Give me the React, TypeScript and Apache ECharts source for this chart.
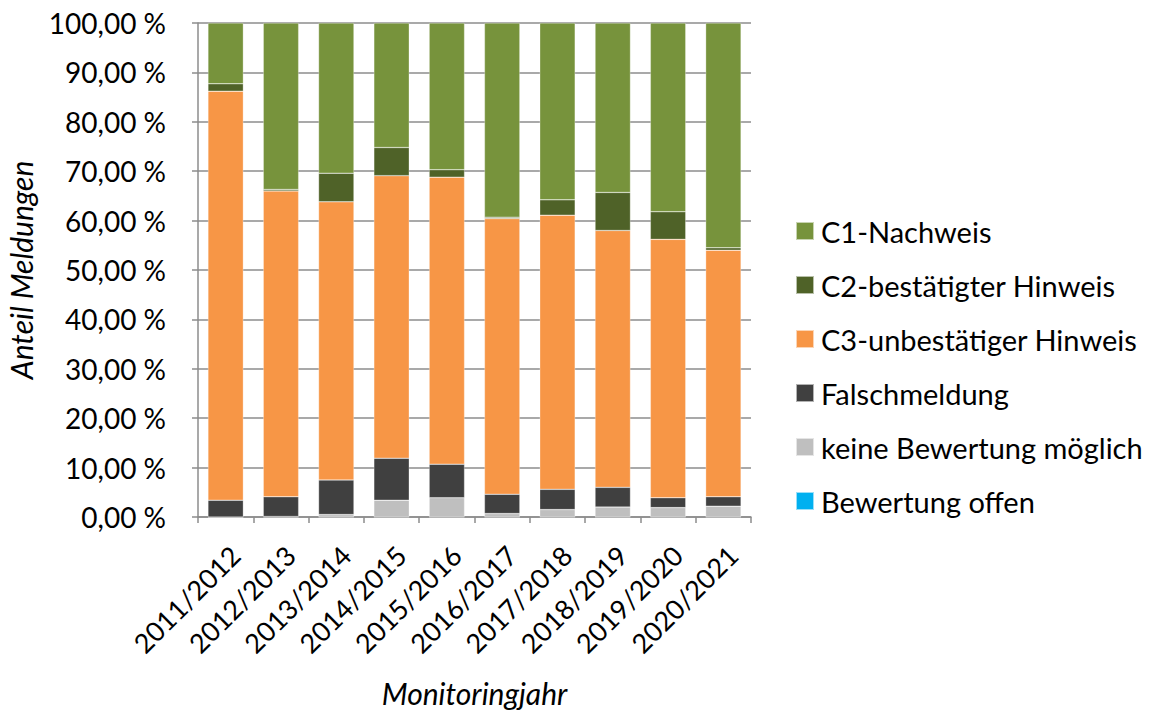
import React, { useEffect, useRef } from "react";
import * as echarts from "echarts";

const categories = [
  "2011/2012", "2012/2013", "2013/2014", "2014/2015", "2015/2016",
  "2016/2017", "2017/2018", "2018/2019", "2019/2020", "2020/2021",
];
const offen = [0, 0, 0, 0, 0, 0, 0, 0, 0, 0];
const keine = [0, 0.1, 0.5, 3.4, 3.9, 0.7, 1.5, 2.0, 1.9, 2.2];
const falsch = [3.4, 4.0, 7.0, 8.5, 6.8, 3.9, 4.1, 4.0, 2.0, 1.9];
const c3 = [82.8, 61.9, 56.3, 57.2, 58.1, 55.8, 55.5, 52.0, 52.3, 49.9];
const c2 = [1.5, 0.3, 5.8, 5.7, 1.5, 0.3, 3.1, 7.7, 5.6, 0.5];
const c1 = [12.3, 33.7, 30.4, 25.2, 29.7, 39.3, 35.8, 34.3, 38.2, 45.5];

const FONT = "Lato";

export default function App() {
  const ref = useRef<HTMLDivElement>(null);
  useEffect(() => {
    document.body.style.margin = "0";
    const chart = echarts.init(ref.current!, null, { renderer: "svg" });
    const mk = (name: string, data: number[], color: string) => ({
      name,
      type: "bar",
      stack: "total",
      data,
      barWidth: "64%",
      itemStyle: { color, borderColor: "rgba(255,255,255,0.6)", borderWidth: 0.5 },
    });
    chart.setOption({
      animation: false,
      textStyle: { fontFamily: FONT },
      grid: {
        left: 198,
        top: 23,
        right: 407,
        bottom: 194,
        containLabel: false,
        outerBoundsMode: "none",
      },
      legend: {
        orient: "vertical",
        left: 790,
        top: 210,
        itemWidth: 18,
        itemHeight: 18,
        itemGap: 22,
        icon: "rect",
        textStyle: {
          fontSize: 29,
          fontFamily: FONT,
          color: "#000",
          lineHeight: 32,
          padding: [0, 0, 0, 2],
        },
        data: [
          "C1-Nachweis",
          "C2-bestätigter Hinweis",
          "C3-unbestätiger Hinweis",
          "Falschmeldung",
          "keine Bewertung möglich",
          "Bewertung offen",
        ],
      },
      xAxis: {
        type: "category",
        data: categories,
        name: "Monitoringjahr",
        nameLocation: "middle",
        nameGap: 161,
        nameTextStyle: { fontSize: 30, fontStyle: "italic", color: "#000", fontFamily: FONT },
        axisLine: { lineStyle: { color: "#8c8c8c", width: 1.5 } },
        axisTick: { show: true, length: 6, lineStyle: { color: "#8c8c8c", width: 1.5 } },
        axisLabel: {
          rotate: 45,
          fontSize: 27,
          color: "#000",
          margin: 24,
          verticalAlign: "top",
          fontFamily: FONT,
        },
      },
      yAxis: {
        type: "value",
        min: 0,
        max: 100,
        interval: 10,
        name: "Anteil Meldungen",
        nameLocation: "middle",
        nameGap: 162,
        nameTextStyle: { fontSize: 30, fontStyle: "italic", color: "#000", fontFamily: FONT },
        axisLine: { show: true, lineStyle: { color: "#8c8c8c", width: 1.5 } },
        axisTick: { show: true, length: 6, lineStyle: { color: "#8c8c8c", width: 1.5 } },
        splitLine: { show: true, lineStyle: { color: "#8c8c8c", width: 1.5 } },
        axisLabel: {
          fontSize: 28,
          color: "#000",
          margin: 32,
          fontFamily: FONT,
          formatter: (v: number) => v.toFixed(2).replace(".", ",") + " %",
        },
      },
      series: [
        mk("Bewertung offen", offen, "#00b0f0"),
        mk("keine Bewertung möglich", keine, "#bfbfbf"),
        mk("Falschmeldung", falsch, "#404040"),
        mk("C3-unbestätiger Hinweis", c3, "#f79646"),
        mk("C2-bestätigter Hinweis", c2, "#4f6228"),
        mk("C1-Nachweis", c1, "#77933c"),
      ],
    });
    return () => chart.dispose();
  }, []);
  return <div ref={ref} style={{ width: 1158, height: 711 }} />;
}
